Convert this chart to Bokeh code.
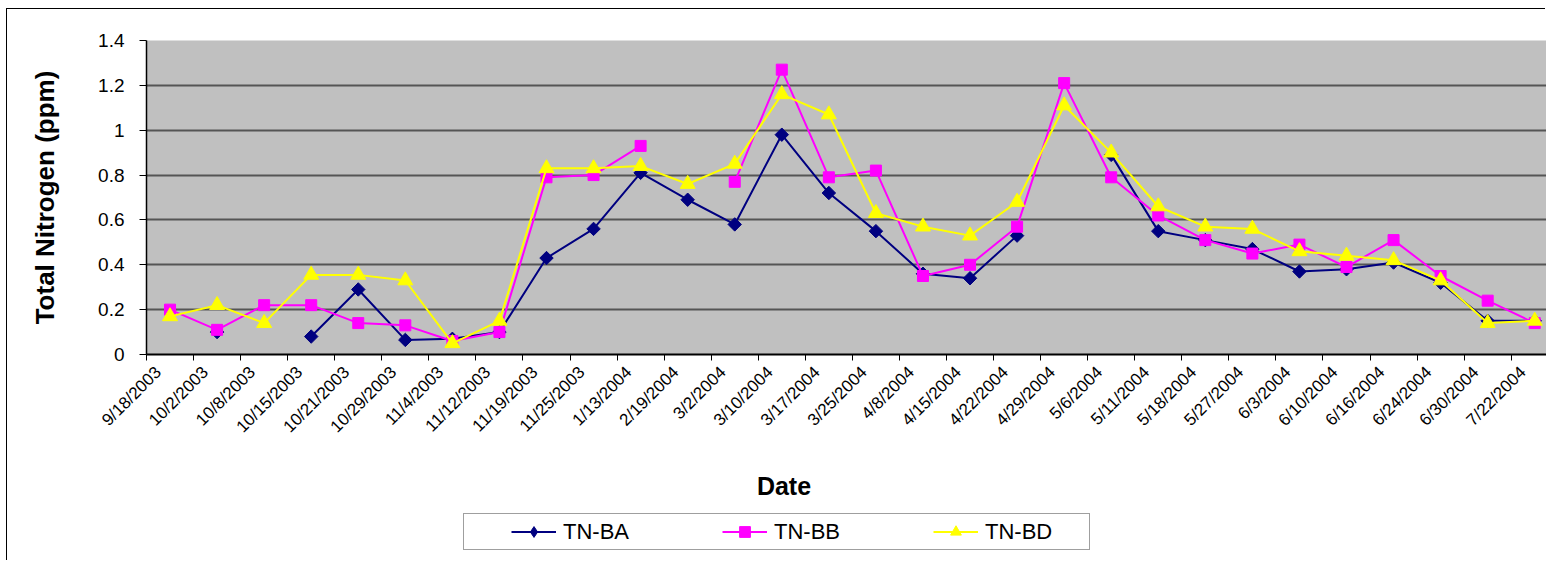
import math
import numpy as np
from bokeh.plotting import figure
from bokeh.layouts import column
from bokeh.models import Range1d, FixedTicker, Legend, LegendItem, ColumnDataSource
from bokeh.embed import file_html
from bokeh.resources import INLINE

# ---------------- data ----------------
dates = ["9/18/2003", "10/2/2003", "10/8/2003", "10/15/2003", "10/21/2003",
         "10/29/2003", "11/4/2003", "11/12/2003", "11/19/2003", "11/25/2003",
         "1/13/2004", "2/19/2004", "3/2/2004", "3/10/2004", "3/17/2004",
         "3/25/2004", "4/8/2004", "4/15/2004", "4/22/2004", "4/29/2004",
         "5/6/2004", "5/11/2004", "5/18/2004", "5/27/2004", "6/3/2004",
         "6/10/2004", "6/16/2004", "6/24/2004", "6/30/2004", "7/22/2004"]

tn_ba = [None, 0.10, None, 0.08, 0.29, 0.065, 0.07, 0.10, 0.43, 0.56,
         0.81, 0.69, 0.58, 0.98, 0.72, 0.55, 0.36, 0.34, 0.53, None,
         0.89, 0.55, 0.51, 0.47, 0.37, 0.38, 0.41, 0.32, 0.15, 0.15]

tn_bb = [0.20, 0.11, 0.22, 0.22, 0.14, 0.13, 0.06, 0.10, 0.79, 0.80,
         0.93, None, 0.77, 1.27, 0.79, 0.82, 0.35, 0.40, 0.57, 1.21,
         0.79, 0.62, 0.51, 0.45, 0.49, 0.39, 0.51, 0.35, 0.24, 0.14]

tn_bd = [0.17, 0.22, 0.14, 0.355, 0.355, 0.33, 0.05, 0.15, 0.83, 0.83,
         0.84, 0.76, 0.85, 1.16, 1.07, 0.63, 0.57, 0.53, 0.68, 1.11,
         0.90, 0.66, 0.57, 0.56, 0.46, 0.44, 0.42, 0.33, 0.14, 0.15]

series_names = ["TN-BA", "TN-BB", "TN-BD"]
y_ticks = [0.0, 0.2, 0.4, 0.6, 0.8, 1.0, 1.2, 1.4]
y_tick_labels = ["0", "0.2", "0.4", "0.6", "0.8", "1", "1.2", "1.4"]
x_title = "Date"
y_title = "Total Nitrogen (ppm)"

# ---------------- figure ----------------
FONT = "Liberation Sans"


def arr(v):
    return np.array([np.nan if a is None else a for a in v], dtype=float)


xpos = [i + 0.5 for i in range(len(dates))]
label_pos = [i + 0.25 for i in range(len(dates))]   # label anchors, a little left of centre
src = ColumnDataSource(dict(x=xpos, ba=arr(tn_ba), bb=arr(tn_bb), bd=arr(tn_bd)))

W = 1539
p = figure(width=W, height=500, output_backend="svg", toolbar_location=None,
           x_range=Range1d(0, 29.75), y_range=Range1d(0, 1.4),
           min_border_left=139, min_border_right=0, min_border_top=31,
           min_border_bottom=155)
p.background_fill_color = "#C0C0C0"
p.border_fill_color = "white"
p.outline_line_color = None

p.xgrid.visible = False
p.ygrid.ticker = FixedTicker(ticks=y_ticks)
p.ygrid.grid_line_color = "#555555"
p.ygrid.grid_line_width = 2

# y axis
p.yaxis.ticker = FixedTicker(ticks=y_ticks)
p.yaxis.major_label_overrides = {t: l for t, l in zip(y_ticks, y_tick_labels)}
p.yaxis.major_label_text_font = FONT
p.yaxis.major_label_text_font_size = "19px"
p.yaxis.major_label_text_color = "black"
p.yaxis.major_tick_out = 7
p.yaxis.major_tick_in = 0
p.yaxis.minor_tick_line_color = None
p.yaxis.axis_line_color = "black"
p.yaxis.axis_line_width = 1.5
p.yaxis.major_tick_line_color = "black"
p.yaxis.major_label_standoff = 15
p.yaxis.axis_label = y_title
p.yaxis.axis_label_text_font = FONT
p.yaxis.axis_label_text_font_size = "26px"
p.yaxis.axis_label_text_font_style = "bold"
p.yaxis.axis_label_text_color = "black"
p.yaxis.axis_label_standoff = 35

# x axis
p.xaxis.ticker = FixedTicker(ticks=label_pos, minor_ticks=list(range(len(dates) + 1)))
p.xaxis.major_label_overrides = {xv: d for xv, d in zip(label_pos, dates)}
p.xaxis.major_tick_line_color = None
p.xaxis.major_tick_out = 6
p.xaxis.major_tick_in = 0
p.xaxis.minor_tick_line_color = "black"
p.xaxis.minor_tick_out = 6
p.xaxis.minor_tick_in = 0
p.xaxis.axis_line_color = "black"
p.xaxis.axis_line_width = 2
p.xaxis.major_label_orientation = math.pi / 4
p.xaxis.major_label_text_font = FONT
p.xaxis.major_label_text_font_size = "17px"
p.xaxis.major_label_text_color = "black"
p.xaxis.major_label_standoff = 9
# trailing no-break spaces shift the centred title to the left, as in the reference
p.xaxis.axis_label = x_title + "\u00a0" * 18
p.xaxis.axis_label_text_font = FONT
p.xaxis.axis_label_text_font_size = "25px"
p.xaxis.axis_label_text_font_style = "bold"
p.xaxis.axis_label_text_color = "black"
p.xaxis.axis_label_standoff = 26

# series
styles = [
    ("ba", "#000080", "square", math.pi / 4, 9.5),
    ("bb", "#FF00FF", "square", 0.0, 11),
    ("bd", "#FFFF00", "triangle", 0.0, 15),
]
for col, color, marker, ang, size in styles:
    p.line("x", col, source=src, line_color=color, line_width=2)
    p.scatter("x", col, source=src, marker=marker, angle=ang, size=size,
              fill_color=color, line_color=color, line_width=1)

# ---------------- legend strip ----------------
q = figure(width=W, height=52, output_backend="svg", toolbar_location=None,
           x_range=Range1d(0, 1), y_range=Range1d(0, 1),
           x_axis_type=None, y_axis_type=None, min_border=0)
q.grid.visible = False
q.outline_line_color = None
q.background_fill_color = "white"
q.border_fill_color = "white"

legend_markers = ["diamond", "square", "triangle"]
items = []
for (col, color, marker, ang, size), lm, name in zip(styles, legend_markers, series_names):
    lr = q.line(x=[-5, -4], y=[-5, -4], line_color=color, line_width=2)
    sr = q.scatter(x=[-5], y=[-5], marker=lm, size=size,
                   fill_color=color, line_color=color, line_width=1)
    items.append(LegendItem(label=name, renderers=[lr, sr]))

legend = Legend(items=items, orientation="horizontal", location=(317, 11),
                glyph_width=45, glyph_height=27, label_standoff=7, label_width=100,
                spacing=59, padding=4, margin=0,
                border_line_color="#404040", border_line_width=1,
                background_fill_color="white", background_fill_alpha=1.0,
                label_text_font=FONT, label_text_font_size="22px",
                label_text_color="black",
                title="\u00a0", title_location="left", title_standoff=32,
                title_text_font_size="10px")
q.add_layout(legend, "center")

layout = column(p, q, spacing=0)
layout.margin = (9, 0, 0, 7)
layout.styles = {"box-shadow": "-1px -1px 0 0 #000000"}

open("out.html", "w").write(file_html(layout, INLINE))
